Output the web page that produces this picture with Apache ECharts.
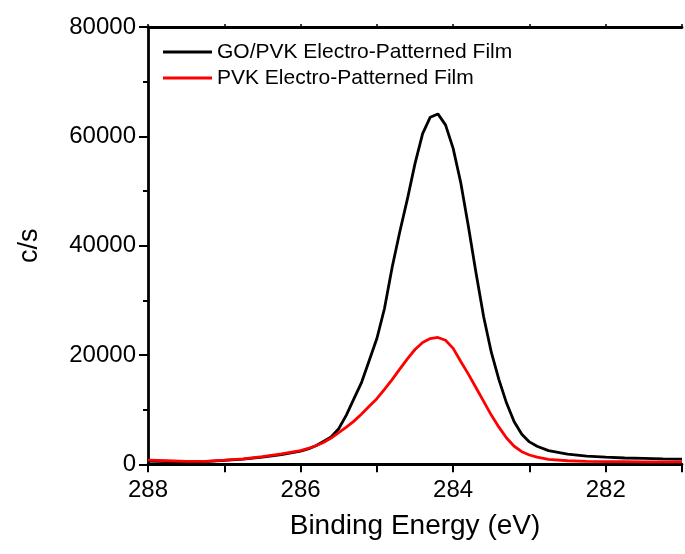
<!DOCTYPE html>
<html>
<head>
<meta charset="utf-8">
<script src="https://cdn.jsdelivr.net/npm/echarts@6/dist/echarts.min.js"></script>
<style>
html,body{margin:0;padding:0;background:#fff;}
#chart{width:685px;height:554px;}
</style>
</head>
<body>
<div id="chart"></div>
<script>
// Binding energy (eV)
var energy = [288.0, 287.75, 287.5, 287.25, 287.0, 286.75, 286.5, 286.25, 286.0, 285.9, 285.8, 285.7, 285.6, 285.5, 285.4, 285.3, 285.2, 285.1, 285.0, 284.9, 284.8, 284.7, 284.6, 284.5, 284.4, 284.3, 284.2, 284.1, 284.0, 283.9, 283.8, 283.7, 283.6, 283.5, 283.4, 283.3, 283.2, 283.1, 283.0, 282.9, 282.75, 282.5, 282.25, 282.0, 281.75, 281.5, 281.25, 281.0];
// GO/PVK Electro-Patterned Film (c/s)
var goPvk = [600, 500, 450, 500, 700, 950, 1300, 1750, 2400, 2800, 3400, 4200, 5000, 6500, 9000, 12000, 15000, 19000, 23000, 28500, 36000, 42500, 48500, 55000, 60500, 63500, 64100, 62100, 57800, 51500, 43500, 35000, 27000, 20500, 15500, 11200, 7800, 5500, 4100, 3300, 2500, 1850, 1500, 1300, 1150, 1100, 1000, 950];
// PVK Electro-Patterned Film (c/s)
var pvk = [750, 650, 550, 550, 750, 1000, 1400, 1900, 2500, 2900, 3400, 4000, 4800, 5800, 6800, 7900, 9200, 10600, 12000, 13700, 15500, 17400, 19300, 21000, 22300, 23000, 23200, 22700, 21200, 18800, 16500, 14000, 11500, 9000, 6800, 4800, 3300, 2300, 1700, 1300, 900, 650, 550, 500, 480, 450, 450, 430];
var seriesNames = ['GO/PVK Electro-Patterned Film', 'PVK Electro-Patterned Film'];
var xTicks = [288, 286, 284, 282];
var yTicks = [0, 20000, 40000, 60000, 80000];

function pairs(xs, ys) { return xs.map(function (x, i) { return [x, ys[i]]; }); }

var chart = echarts.init(document.getElementById('chart'), null, { renderer: 'canvas' });
var FONT = '"Liberation Sans", Arial, sans-serif';
chart.setOption({
  animation: false,
  backgroundColor: '#ffffff',
  grid: { left: 148, top: 27, width: 541.5, height: 437.3, containLabel: false },
  legend: {
    orient: 'vertical',
    left: 158, top: 34,
    itemWidth: 49, itemHeight: 3, itemGap: 0,
    icon: 'rect',
    textStyle: { fontFamily: FONT, fontSize: 21, color: '#000', lineHeight: 26 },
    data: seriesNames
  },
  xAxis: [{
    type: 'value', position: 'bottom', inverse: true,
    min: 281, max: 288, interval: 1,
    axisLine: { show: true, onZero: false, lineStyle: { color: '#000', width: 2.8 } },
    axisTick: { show: true, inside: false, length: 8, lineStyle: { color: '#000', width: 2 } },
    minorTick: { show: false },
    splitLine: { show: false },
    axisLabel: {
      show: true, margin: 14, fontFamily: FONT, fontSize: 24, color: '#000',
      formatter: function (v) { return xTicks.indexOf(v) >= 0 ? String(v) : ''; }
    },
    name: 'Binding Energy (eV)', nameLocation: 'middle', nameGap: 48,
    nameTextStyle: { fontFamily: FONT, fontSize: 28, color: '#000' }
  }, {
    type: 'value', position: 'top', inverse: true,
    min: 281, max: 288, interval: 1,
    axisLine: { show: true, onZero: false, lineStyle: { color: '#000', width: 2.8 } },
    axisTick: { show: true, inside: false, length: 3, lineStyle: { color: '#000', width: 1.5 } },
    axisLabel: { show: false },
    splitLine: { show: false }
  }],
  yAxis: {
    type: 'value', min: 0, max: 80000, interval: 20000,
    axisLine: { show: true, onZero: false, lineStyle: { color: '#000', width: 2.8 } },
    axisTick: { show: true, inside: false, length: 9, lineStyle: { color: '#000', width: 2 } },
    minorTick: { show: true, splitNumber: 2, length: 5, lineStyle: { color: '#000', width: 2 } },
    splitLine: { show: false },
    axisLabel: {
      show: true, margin: 12, fontFamily: FONT, fontSize: 24, color: '#000',
      formatter: function (v) { return yTicks.indexOf(v) >= 0 ? String(v) : ''; }
    },
    name: 'c/s', nameLocation: 'middle', nameGap: 105, nameRotate: 90,
    nameTextStyle: { fontFamily: FONT, fontSize: 27, color: '#000' }
  },
  series: [{
    name: seriesNames[0], type: 'line', xAxisIndex: 0,
    data: pairs(energy, goPvk), showSymbol: false, symbol: 'none', smooth: false,
    lineStyle: { color: '#000000', width: 2.8 }, itemStyle: { color: '#000000' }, z: 3
  }, {
    name: seriesNames[1], type: 'line', xAxisIndex: 0,
    data: pairs(energy, pvk), showSymbol: false, symbol: 'none', smooth: false,
    lineStyle: { color: '#ff0000', width: 2.8 }, itemStyle: { color: '#ff0000' }, z: 4
  }]
});
</script>
</body>
</html>
